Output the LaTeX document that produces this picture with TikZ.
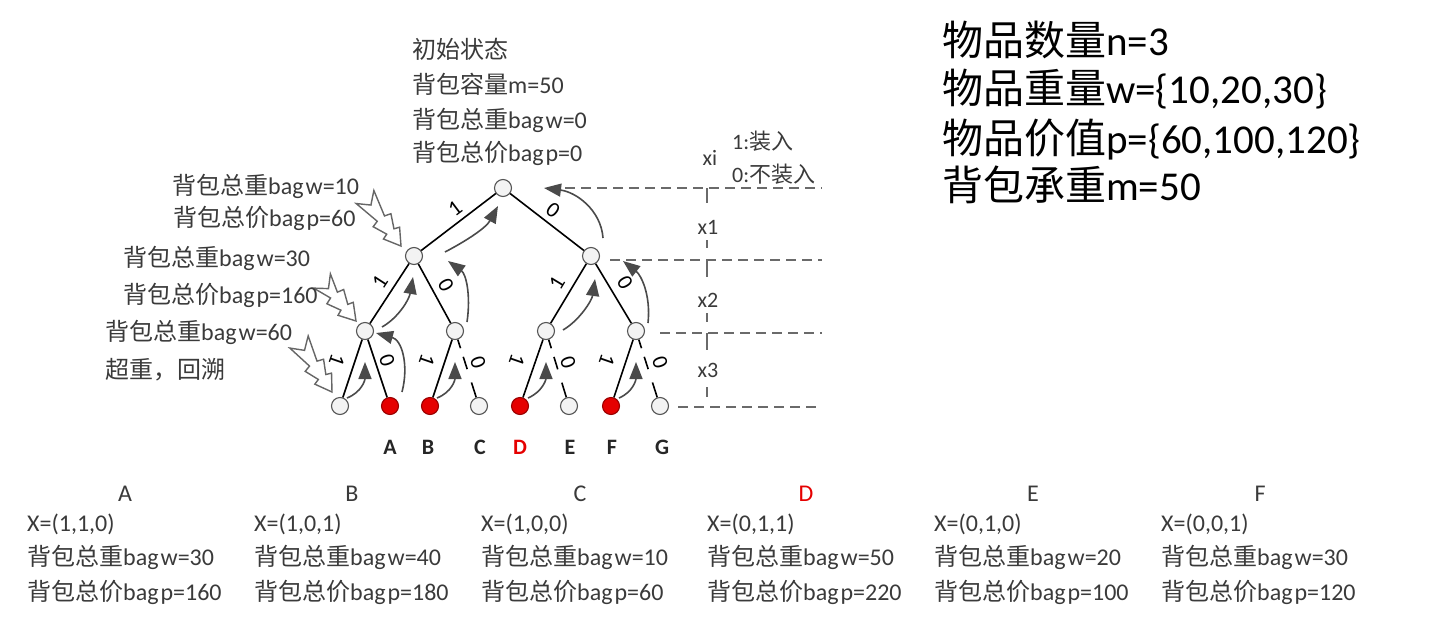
\documentclass[tikz,border=0pt]{standalone}
\usepackage{fontspec}
\setmainfont{Carlito}
\newfontfamily\cjk{Noto Sans CJK SC}
\usetikzlibrary{arrows.meta,calc}
\definecolor{txt}{HTML}{3A3A3A}
\definecolor{nodeline}{HTML}{555555}
\definecolor{nodefill}{HTML}{F3F3F3}
\definecolor{redfill}{HTML}{E50000}
\definecolor{backc}{HTML}{4A4A4A}
\definecolor{dashc}{HTML}{6A6A6A}
\definecolor{zzc}{HTML}{666666}
\newcommand\zh[1]{{\cjk #1}}
\newcommand\zzarr[2]{%
  \coordinate (zt) at #1; \coordinate (zh) at #2;
  \draw[zz] (zh)
   -- ($(zh)!16pt!(zt)!10pt!90:(zt)$)
   -- ($(zh)!18pt!(zt)!4.5pt!90:(zt)$)
   -- ($(zh)!32pt!(zt)!11pt!90:(zt)$)
   -- ($(zh)!34pt!(zt)!4.5pt!90:(zt)$)
   -- ($(zt)!11pt!-90:(zh)$)
   -- ($(zt)!10pt!(zh)$)
   -- ($(zt)!11pt!90:(zh)$)
   -- ($(zh)!34pt!(zt)!4.5pt!-90:(zt)$)
   -- ($(zh)!32pt!(zt)!11pt!-90:(zt)$)
   -- ($(zh)!18pt!(zt)!4.5pt!-90:(zt)$)
   -- ($(zh)!16pt!(zt)!10pt!-90:(zt)$)
   -- cycle;}
\begin{document}
\begin{tikzpicture}[x=1pt,y=-1pt,
  tn/.style={circle, draw=nodeline, fill=nodefill, minimum size=17pt, inner sep=0pt, line width=1.1pt},
  rn/.style={tn, draw=red!60!black, fill=redfill},
  edge/.style={line width=1.6pt, black},
  faint/.style={edge, dash pattern=on 9pt off 9pt on 13pt off 14pt on 30pt},
  back/.style={draw=backc, line width=1.6pt, -{Triangle[length=17pt,width=13pt]}},
  zz/.style={draw=zzc, fill=white, line width=1.4pt, line join=miter},
  dl/.style={draw=dashc, line width=1.6pt, dash pattern=on 10pt off 6pt},
  tick/.style={draw=dashc, line width=1.6pt},
  lab/.style={font=\fontsize{24}{28}\selectfont, text=txt, inner sep=0pt, anchor=base west},
  hd/.style={font=\fontsize{24}{28}\selectfont, text=txt, inner sep=0pt, anchor=base},
  big/.style={font=\fontsize{41}{48}\selectfont, text=black, inner sep=0pt, anchor=base west},
  el/.style={font=\fontsize{22}{24}\selectfont, text=black, inner sep=0pt},
  sm/.style={font=\fontsize{22}{26}\selectfont, text=txt, inner sep=0pt},
  leafl/.style={font=\bfseries\fontsize{22}{26}\selectfont, text=black!85, inner sep=0pt, anchor=base}
]
\useasboundingbox (0,0) rectangle (1455,629);

% ---------- tree nodes ----------
\node[tn] (r)  at (503,188) {};
\node[tn] (a1) at (414,256) {};
\node[tn] (b1) at (591,256) {};
\node[tn] (a2) at (365,331) {};
\node[tn] (b2) at (455,331) {};
\node[tn] (c2) at (546,331) {};
\node[tn] (d2) at (636,331) {};
\node[tn] (l0) at (340,406) {};
\node[rn] (l1) at (390,406) {};
\node[rn] (l2) at (430,406) {};
\node[tn] (l3) at (479,406) {};
\node[rn] (l4) at (520,406) {};
\node[tn] (l5) at (569,406) {};
\node[rn] (l6) at (611,406) {};
\node[tn] (l7) at (660,406) {};

% ---------- tree edges ----------
\draw[edge] (r) -- (a1);
\draw[edge] (r) -- (b1);
\draw[edge] (a1) -- (a2);
\draw[edge] (a1) -- (b2);
\draw[edge] (b1) -- (c2);
\draw[edge] (b1) -- (d2);
\draw[edge] (a2) -- (l0);
\draw[edge] (a2) -- (l1);
\draw[edge] (b2) -- (l2);
\draw[faint] (b2) -- (l3);
\draw[edge] (c2) -- (l4);
\draw[faint] (c2) -- (l5);
\draw[edge] (d2) -- (l6);
\draw[faint] (d2) -- (l7);

% ---------- edge labels ----------
\node[el, rotate=37]  (e1) at (455,208) {1};
\node[el, rotate=-37] (e2) at (553,210) {0};
\node[el, rotate=57]  (e3) at (380,282) {1};
\node[el, rotate=-62] (e4) at (446,285) {0};
\node[el, rotate=59]  (e5) at (557,283) {1};
\node[el, rotate=-59] (e6) at (625,283) {0};
\node[el, rotate=-109] (e7) at (337,360) {1};
\node[el, rotate=-71]  (e8) at (387,360) {0};
\node[el, rotate=-109] (e9) at (427,360) {1};
\node[el, rotate=-71]  (e10) at (478,362) {0};
\node[el, rotate=-109] (e11) at (517,360) {1};
\node[el, rotate=-71]  (e12) at (568,362) {0};
\node[el, rotate=-109] (e13) at (607,360) {1};
\node[el, rotate=-71]  (e14) at (660,362) {0};

% ---------- backtracking arrows ----------
\draw[back] (347,398) .. controls (362,392) and (365,380) .. (365,362);
\draw[back] (402,392) .. controls (409,365) and (402,340) .. (376,333);
\draw[back] (382,327) .. controls (398,318) and (409,300) .. (413,277);
\draw[back] (437,398) .. controls (452,392) and (455,380) .. (455,362);
\draw[back] (467,322) .. controls (471,295) and (466,274) .. (448,261);
\draw[back] (445,252) .. controls (466,241) and (486,228) .. (498,206);
\draw[back] (603,238) .. controls (601,210) and (576,192) .. (544,188);
\draw[back] (563,330) .. controls (580,320) and (592,300) .. (595,279);
\draw[back] (648,323) .. controls (651,295) and (641,275) .. (623,261);
\draw[back] (528,398) .. controls (542,392) and (546,380) .. (546,362);
\draw[back] (619,398) .. controls (633,392) and (636,380) .. (636,362);

% ---------- zigzag pointer arrows ----------
\zzarr{(365,197)}{(401,246)}
\zzarr{(322,281)}{(356,321)}
\zzarr{(299,342)}{(332,392)}

% ---------- level guides ----------
\draw[dl] (565,188) -- (822,188);
\draw[dl] (610,260) -- (822,260);
\draw[dl] (660,333) -- (822,333);
\draw[dl] (678,407) -- (822,407);
\draw[tick] (707,188) -- (707,203);
\draw[tick] (707,240) -- (707,248);
\draw[tick] (707,260) -- (707,277);
\draw[tick] (707,313) -- (707,322);
\draw[tick] (707,333) -- (707,350);
\draw[tick] (707,387) -- (707,397);
\node[sm, anchor=base] (xi) at (710,165) {xi};
\node[sm, anchor=base west] (k1) at (732,149) {1:\zh{装入}};
\node[sm, anchor=base west] (k0) at (732,182) {0:\zh{不装入}};
\node[sm, anchor=base] (x1) at (708,234) {x1};
\node[sm, anchor=base] (x2) at (708,307) {x2};
\node[sm, anchor=base] (x3) at (708,377) {x3};

% ---------- leaf letters ----------
\node[leafl] (LA) at (390,454) {A};
\node[leafl] (LB) at (428,454) {B};
\node[leafl] (LC) at (480,454) {C};
\node[leafl, text=red!90!black] (LD) at (520,454) {D};
\node[leafl] (LE) at (570,454) {E};
\node[leafl] (LF) at (612,454) {F};
\node[leafl] (LG) at (662,454) {G};

% ---------- initial state ----------
\node[lab] (i0) at (412,58)  {\zh{初始状态}};
\node[lab] (i1) at (412,93)  {\zh{背包容量}m=50};
\node[lab] (i2) at (412,128) {\zh{背包总重}bag\kern2pt w=0};
\node[lab] (i3) at (412,161) {\zh{背包总价}bag\kern2pt p=0};

% ---------- left labels ----------
\node[lab] (s1) at (172,194) {\zh{背包总重}bag\kern2pt w=10};
\node[lab] (s2) at (173,226) {\zh{背包总价}bag\kern2pt p=60};
\node[lab] (s3) at (123,266) {\zh{背包总重}bag\kern2pt w=30};
\node[lab] (s4) at (123,303) {\zh{背包总价}bag\kern2pt p=160};
\node[lab] (s5) at (105,340) {\zh{背包总重}bag\kern2pt w=60};
\node[lab] (s6) at (105,378) {\zh{超重，回溯}};

% ---------- top right ----------
\node[big] (g1) at (942,55)  {\zh{物品数量}n=3};
\node[big] (g2) at (942,103) {\zh{物品重量}w=\{10,20,30\}};
\node[big] (g3) at (942,153) {\zh{物品价值}p=\{60,100,120\}};
\node[big] (g4) at (942,200) {\zh{背包承重}m=50};

% ---------- bottom table ----------
\node[hd] (hA) at (125,501) {A};
\node[lab] (A1) at (27,531) {X=(1,1,0)};
\node[lab] (A2) at (27,565) {\zh{背包总重}bag\kern2pt w=30};
\node[lab] (A3) at (27,600) {\zh{背包总价}bag\kern2pt p=160};

\node[hd] (hB) at (352,501) {B};
\node[lab] (B1) at (254,531) {X=(1,0,1)};
\node[lab] (B2) at (254,565) {\zh{背包总重}bag\kern2pt w=40};
\node[lab] (B3) at (254,600) {\zh{背包总价}bag\kern2pt p=180};

\node[hd] (hC) at (580,501) {C};
\node[lab] (C1) at (481,531) {X=(1,0,0)};
\node[lab] (C2) at (481,565) {\zh{背包总重}bag\kern2pt w=10};
\node[lab] (C3) at (481,600) {\zh{背包总价}bag\kern2pt p=60};

\node[hd, text=red!90!black] (hD) at (806,501) {D};
\node[lab] (D1) at (707,531) {X=(0,1,1)};
\node[lab] (D2) at (707,565) {\zh{背包总重}bag\kern2pt w=50};
\node[lab] (D3) at (707,600) {\zh{背包总价}bag\kern2pt p=220};

\node[hd] (hE) at (1033,501) {E};
\node[lab] (E1) at (934,531) {X=(0,1,0)};
\node[lab] (E2) at (934,565) {\zh{背包总重}bag\kern2pt w=20};
\node[lab] (E3) at (934,600) {\zh{背包总价}bag\kern2pt p=100};

\node[hd] (hF) at (1260,501) {F};
\node[lab] (F1) at (1161,531) {X=(0,0,1)};
\node[lab] (F2) at (1161,565) {\zh{背包总重}bag\kern2pt w=30};
\node[lab] (F3) at (1161,600) {\zh{背包总价}bag\kern2pt p=120};
\end{tikzpicture}
\end{document}
